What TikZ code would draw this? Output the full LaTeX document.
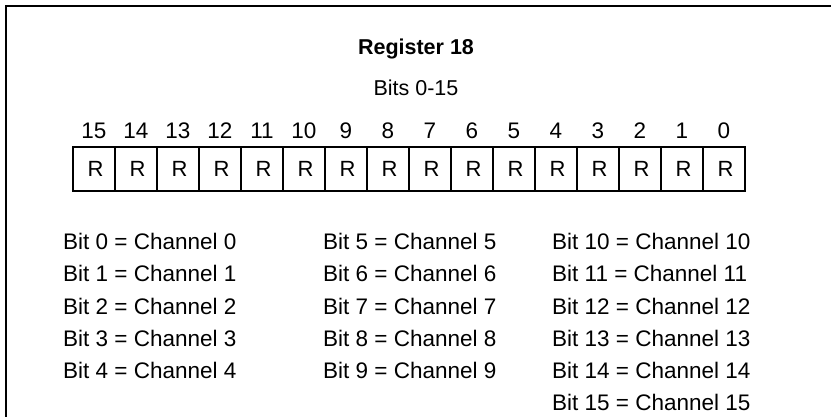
\documentclass[tikz,border=0pt]{standalone}
\usepackage{fontspec}
\setmainfont{Liberation Sans}
\begin{document}
\begin{tikzpicture}[x=1pt,y=-1pt,
  lbl/.style={inner sep=0pt,font=\fontsize{22.5}{26}\selectfont},
  bitbox/.style={draw,line width=2.2pt,minimum width=42pt,minimum height=44pt,inner sep=0pt,font=\fontsize{22}{26}\selectfont},
  frameline/.style={line width=2.6pt,line cap=rect}]
\useasboundingbox (0,0) rectangle (831,417);
\coordinate (tl) at (6,6);
\coordinate (tr) at (831,6);
\coordinate (bl) at (6,417);
\draw[frameline] (bl) -- (tl) -- (tr);
\node[lbl,font=\fontsize{21.5}{24}\selectfont\bfseries] (title) at (416,49) {Register 18};
\node[lbl,font=\fontsize{21.5}{24}\selectfont] (sub) at (416,88) {Bits 0-15};
\foreach \i in {0,...,15}{
  \pgfmathtruncatemacro{\k}{15-\i}
  \node[bitbox] (b\i) at ({73+42*\k+21},169) {\hspace*{3pt}R};
  \node[lbl] (n\i) at ({73+42*\k+21},131) {\i};
}
\foreach \i in {0,...,4}{
  \node[lbl,anchor=base west] (c\i) at (63,{250+32*\i}) {Bit \i\ = Channel \i};
}
\foreach \i [evaluate=\i as \r using int(\i-5)] in {5,...,9}{
  \node[lbl,anchor=base west] (c\i) at (323,{250+32*\r}) {Bit \i\ = Channel \i};
}
\foreach \i [evaluate=\i as \r using int(\i-10)] in {10,...,15}{
  \node[lbl,anchor=base west] (c\i) at (552,{250+32*\r}) {Bit \i\ = Channel \i};
}
\end{tikzpicture}
\end{document}
